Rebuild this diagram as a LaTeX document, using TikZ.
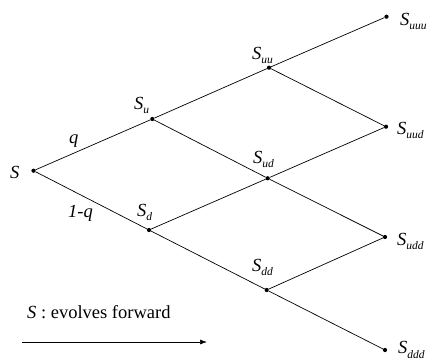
\documentclass[tikz,border=0pt]{standalone}
\usepackage{fontspec}
\setmainfont{Liberation Serif}
\usetikzlibrary{arrows.meta}
\newcommand{\Slab}[1]{\textit{S}\raisebox{-4.5pt}{\fontsize{11.5}{11.5}\selectfont\itshape #1}}
\begin{document}
\begin{tikzpicture}[x=1pt,y=-1pt,
  dot/.style={circle,fill=black,inner sep=0pt,minimum size=4.2pt},
  lab/.style={anchor=base west,inner sep=0pt,font=\fontsize{18.5}{20}\selectfont},
  edge/.style={line width=0.7pt}]
\useasboundingbox (0,0) rectangle (431,362);
% dots
\node[dot] (s)   at (33.5,170.7) {};
\node[dot] (u)   at (152.3,119) {};
\node[dot] (d)   at (149,230) {};
\node[dot] (uu)  at (269,67.7) {};
\node[dot] (ud)  at (267.7,178.3) {};
\node[dot] (dd)  at (266.7,290) {};
\node[dot] (uuu) at (386.5,16.7) {};
\node[dot] (uud) at (386,126.7) {};
\node[dot] (udd) at (385,237) {};
\node[dot] (ddd) at (385,350) {};
% edges
\draw[edge] (s) -- (u);
\draw[edge] (s) -- (d);
\draw[edge] (u) -- (uu);
\draw[edge] (u) -- (ud);
\draw[edge] (d) -- (ud);
\draw[edge] (d) -- (dd);
\draw[edge] (uu) -- (uuu);
\draw[edge] (uu) -- (uud);
\draw[edge] (ud) -- (uud);
\draw[edge] (ud) -- (udd);
\draw[edge] (dd) -- (udd);
\draw[edge] (dd) -- (ddd);
% labels
\node[lab] (ls)   at (10,178) {\textit{S}};
\node[lab] (lu)   at (134,109) {\Slab{u}};
\node[lab] (ld)   at (137,216) {\Slab{d}};
\node[lab] (luu)  at (252,59) {\Slab{uu}};
\node[lab] (lud)  at (253,163) {\Slab{ud}};
\node[lab] (ldd)  at (252,271) {\Slab{dd}};
\node[lab] (luuu) at (400,25) {\Slab{uuu}};
\node[lab] (luud) at (397,134) {\Slab{uud}};
\node[lab] (ludd) at (397,245) {\Slab{udd}};
\node[lab] (lddd) at (398,353.5) {\Slab{ddd}};
\node[lab] (lq)   at (69,143) {\textit{q}};
\node[lab] (l1q)  at (68,217) {\textit{1-q}};
\node[lab] (note) at (27,318) {\textit{S} : evolves forward};
% arrow
\coordinate (a1) at (22,342);
\coordinate (a2) at (207,342);
\draw[edge,-{Latex[length=7pt,width=5pt]}] (a1) -- (a2);
\end{tikzpicture}
\end{document}
